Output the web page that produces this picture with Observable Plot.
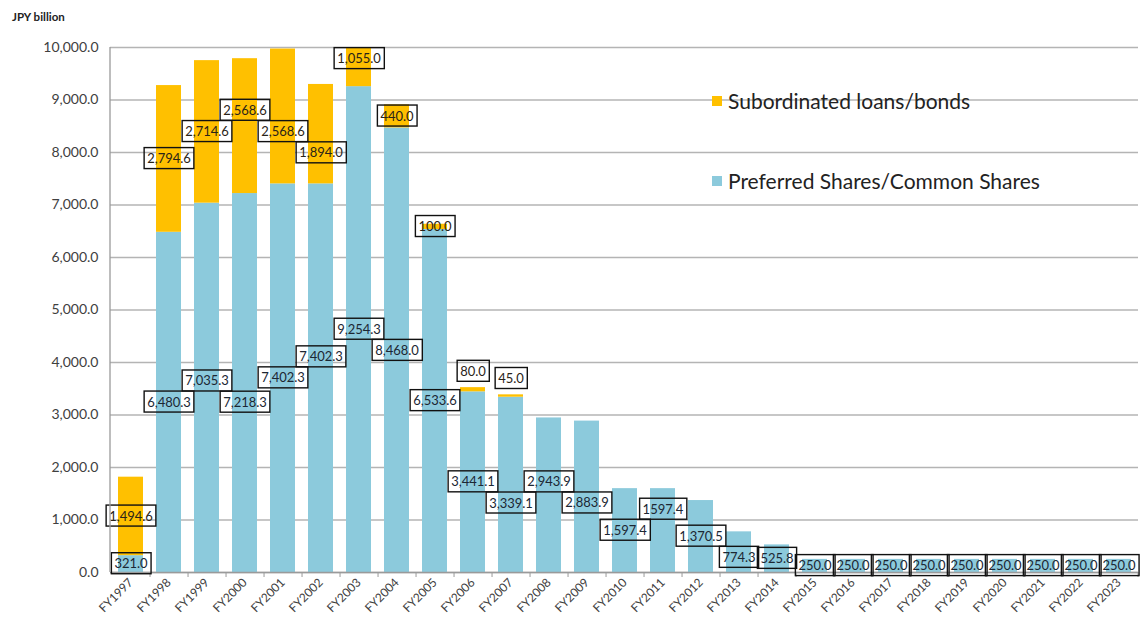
<!DOCTYPE html>
<html><head><meta charset="utf-8">
<script src="https://cdn.jsdelivr.net/npm/d3@7"></script>
<script src="https://cdn.jsdelivr.net/npm/@observablehq/plot@0.6"></script>
<style>
body{margin:0;background:#fff;font-family:Lato,sans-serif}
#wrap{position:relative;width:1140px;height:633px}
#unit{position:absolute;left:12px;top:10px;font-weight:bold;font-size:11.5px;color:#222}
.leg{position:absolute;left:712px;display:flex;align-items:center;font-size:21px;color:#222;white-space:nowrap}
.sw{width:10px;height:10px;margin-right:6px}
</style></head><body>
<div id="wrap"><div id="unit">JPY billion</div></div>
<script>
const years = ["FY1997","FY1998","FY1999","FY2000","FY2001","FY2002","FY2003","FY2004","FY2005","FY2006","FY2007","FY2008","FY2009","FY2010","FY2011","FY2012","FY2013","FY2014","FY2015","FY2016","FY2017","FY2018","FY2019","FY2020","FY2021","FY2022","FY2023"];
const preferred = [321.0,6480.3,7035.3,7218.3,7402.3,7402.3,9254.3,8468.0,6533.6,3441.1,3339.1,2943.9,2883.9,1597.4,1597.4,1370.5,774.3,525.8,250.0,250.0,250.0,250.0,250.0,250.0,250.0,250.0,250.0];
const subordinated = [1494.6,2794.6,2714.6,2568.6,2568.6,1894.0,1055.0,440.0,100.0,80.0,45.0,0,0,0,0,0,0,0,0,0,0,0,0,0,0,0,0];
const seriesNames = ["Preferred Shares/Common Shares","Subordinated loans/bonds"];
const seriesColors = ["#8CCADC","#FFC000"];
const yTicks = d3.range(0, 10001, 1000);
// label text as printed in the source (FY2011 has no thousands separator there)
const fmt = d3.format(",.1f");
const preferredLabels = preferred.map(fmt); preferredLabels[14] = "1597.4";

const rows = [];
years.forEach((yr,i)=>rows.push({year:yr, series:seriesNames[0], value:preferred[i]}));
years.forEach((yr,i)=>{ if(subordinated[i]>0) rows.push({year:yr, series:seriesNames[1], value:subordinated[i]}); });

const W=1140,H=633,ML=110,MR=2,MT=47,MB=61, PI=0.35, PO=0.17;
const step = (W-ML-MR)/(years.length - PI + 2*PO);
const pxPerUnit = (H-MT-MB)/10000;

// ---- label layout: start at segment centre, then nudge vertically to the nearest free spot
const LABEL_FONT=13, BOX_H=21, PAD_X=3;
const ctx = document.createElement("canvas").getContext("2d");
ctx.font = `${LABEL_FONT}px Lato`;
const labels = [];
years.forEach((yr,i)=>{
  labels.push({i, year:yr, text:preferredLabels[i], y:preferred[i]/2, kind:"p"});
  if (subordinated[i]>0) labels.push({i, year:yr, text:fmt(subordinated[i]), kind:"s",
     y: subordinated[i]<90 ? preferred[i]+subordinated[i]+16/pxPerUnit : preferred[i]+subordinated[i]/2});
});
const placed = [];
const topPx = 10000*pxPerUnit;
for (const c of labels) {
  const w = ctx.measureText(c.text).width + 2*PAD_X;
  const cx = c.i*step;
  let best = c.y*pxPerUnit;
  for (let k=0;k<600;k++){
    const off = (k%2 ? 1 : -1)*Math.ceil(k/2)*0.5;
    const yp = c.y*pxPerUnit + off;
    if (yp - BOX_H/2 < -6 || yp + BOX_H/2 > topPx + 3) continue;
    const hit = placed.some(p => Math.abs(p.cx-cx) < (p.w+w)/2 - 3 && Math.abs(p.yp-yp) < BOX_H);
    if (!hit) { best = yp; break; }
  }
  placed.push({cx, w, yp:best});
  c.y = best/pxPerUnit;
}
const pLab = labels.filter(d=>d.kind==="p"), sLab = labels.filter(d=>d.kind==="s");

const chart = Plot.plot({
  width:W, height:H, marginLeft:ML, marginRight:MR, marginTop:MT, marginBottom:MB,
  style:{fontFamily:"Lato, sans-serif", background:"#fff"},
  x:{domain:years, paddingInner:PI, paddingOuter:PO, label:null},
  y:{domain:[0,10000], label:null},
  color:{domain:seriesNames, range:seriesColors},
  marks:[
    Plot.gridY(yTicks,{stroke:"#b4b4b4", strokeOpacity:1, strokeWidth:1.3}),
    Plot.barY(rows,{x:"year", y:"value", fill:"series", clip:true}),
    Plot.ruleY([0],{stroke:"#9a9a9a", strokeWidth:1.3}),
    Plot.axisY({ticks:yTicks, tickFormat:fmt, tickSize:0, tickPadding:12, fontSize:14, fill:"#404040"}),
    Plot.axisX({tickSize:0, tickRotate:-45, tickPadding:8, fontSize:12, fill:"#404040"}),
    Plot.axisX({tickSize:5, tickFormat:()=>"", dx:step/2, stroke:"#9a9a9a"}),
    Plot.text(pLab,{x:"year", y:"y", text:"text", fontSize:LABEL_FONT, fill:"#1c2733"}),
    Plot.text(sLab,{x:"year", y:"y", text:"text", fontSize:LABEL_FONT, fill:"#2a2418"})
  ]
});
const wrap = document.getElementById("wrap");
wrap.appendChild(chart);

const svgEl = chart.tagName.toLowerCase()==="svg" ? chart : chart.querySelector("svg");
const svg = d3.select(svgEl);
svg.append("line").attr("x1",ML).attr("x2",ML).attr("y1",MT).attr("y2",H-MB).attr("stroke","#9a9a9a").attr("stroke-width",1.3);

// boxes around data labels
svg.selectAll('g[aria-label="text"] text').each(function(){
  const b = this.getBBox();
  const r = document.createElementNS("http://www.w3.org/2000/svg","rect");
  r.setAttribute("x", b.x-PAD_X); r.setAttribute("y", b.y-2.5);
  r.setAttribute("width", b.width+2*PAD_X); r.setAttribute("height", b.height+5);
  r.setAttribute("fill","none"); r.setAttribute("stroke","#111"); r.setAttribute("stroke-width","1.4");
  const t = this.getAttribute("transform"); if(t) r.setAttribute("transform", t);
  this.parentNode.insertBefore(r, this);
});

// legend
[[seriesNames[1],seriesColors[1],88],[seriesNames[0],seriesColors[0],168]].forEach(([name,col,top])=>{
  const d = document.createElement("div"); d.className="leg"; d.style.top=top+"px";
  d.innerHTML = `<span class="sw" style="background:${col}"></span><span>${name}</span>`;
  wrap.appendChild(d);
});
</script>
</body></html>
